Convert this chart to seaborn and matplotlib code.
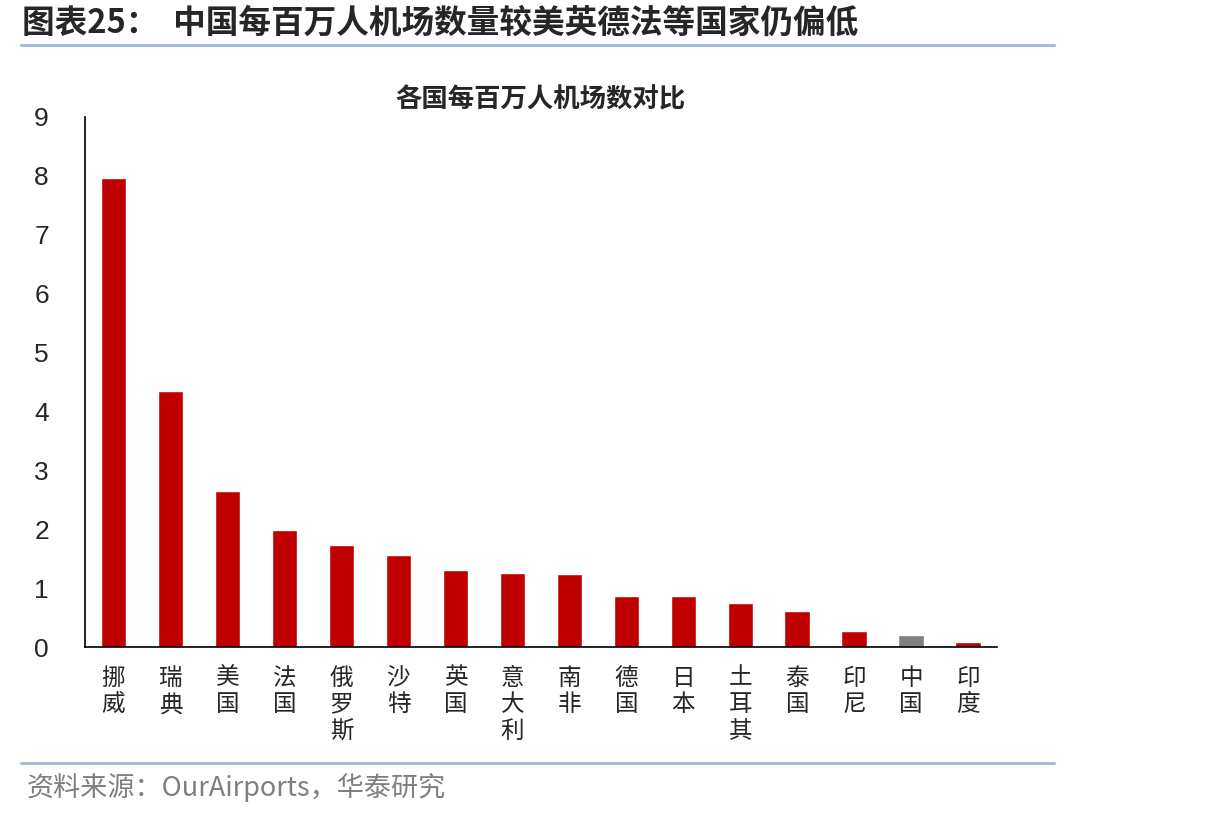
import numpy as np
import pandas as pd
import matplotlib
matplotlib.use("Agg")
import matplotlib.pyplot as plt
import seaborn as sns

countries = ["挪威", "瑞典", "美国", "法国", "俄罗斯", "沙特", "英国", "意大利",
             "南非", "德国", "日本", "土耳其", "泰国", "印尼", "中国", "印度"]
airports_per_million = [7.97, 4.35, 2.65, 1.98, 1.74, 1.56, 1.30, 1.25,
                        1.24, 0.86, 0.86, 0.75, 0.62, 0.28, 0.21, 0.09]
y_ticks = list(range(0, 10))

RED = "#C00000"
GREY = "#808080"
LINE = "#A6BDD7"

sns.set_theme(style="white")
plt.rcParams["font.family"] = ["Noto Sans CJK SC", "DejaVu Sans"]

df = pd.DataFrame({"country": countries, "value": airports_per_million})
palette = {c: (GREY if c == "中国" else RED) for c in countries}

fig = plt.figure(figsize=(12.06, 8.17), dpi=100)
ax = fig.add_axes([0.0705, 0.208, 0.756, 0.649])

sns.barplot(data=df, x="country", y="value", hue="country", palette=palette,
            legend=False, width=0.45, saturation=1, ax=ax)

ax.set_xlim(-0.5, len(countries) - 0.5)
ax.set_ylim(0, 9)
ax.set_yticks(y_ticks)
ax.set_yticklabels([str(t) for t in y_ticks], fontfamily="Liberation Sans", fontsize=19)
ax.set_xticks(range(len(countries)))
ax.set_xticklabels(["\n".join(c) for c in countries], fontsize=17,
                   va="top", linespacing=1.22)
ax.set_xticks(np.arange(-0.5, len(countries), 1.0), minor=True)
ax.tick_params(axis="x", which="major", length=0, pad=14)
ax.tick_params(axis="x", which="minor", length=7, width=1.2, color="black", direction="out")
ax.tick_params(axis="y", length=6, width=1.2, color="black", direction="out", pad=20)
ax.set_xlabel("")
ax.set_ylabel("")
for s in ["top", "right"]:
    ax.spines[s].set_visible(False)
for s in ["left", "bottom"]:
    ax.spines[s].set_color("black")
    ax.spines[s].set_linewidth(1.2)

ax.text(0.5, 1.032, "各国每百万人机场数对比", transform=ax.transAxes, ha="center",
        va="center", fontsize=19, fontweight="bold")

fig.text(0.018, 0.972, "图表25：  中国每百万人机场数量较美英德法等国家仍偏低",
         ha="left", va="center", fontsize=23.5, fontweight="bold")
fig.add_artist(plt.Line2D([0.017, 0.874], [0.945, 0.945], color=LINE, lw=2.2,
                          transform=fig.transFigure))
fig.add_artist(plt.Line2D([0.017, 0.874], [0.066, 0.066], color=LINE, lw=2.2,
                          transform=fig.transFigure))
fig.text(0.022, 0.036, "资料来源：OurAirports，华泰研究", ha="left", va="center",
         fontsize=19.5, color="#7F7F7F")

fig.savefig("out.png", dpi=100)
